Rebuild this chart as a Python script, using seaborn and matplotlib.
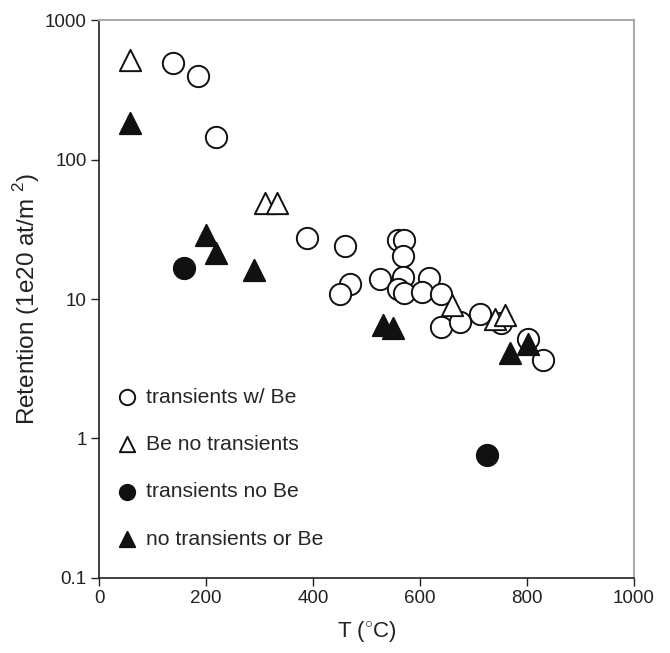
import pandas as pd
import seaborn as sns
import matplotlib.pyplot as plt

# transients w/ Be (open circles)
tw_T = [138, 185, 219, 389, 460, 559, 570, 569, 469, 450, 526, 569, 559, 570,
        617, 603, 640, 712, 752, 640, 675, 802, 830]
tw_R = [490, 399, 145, 27.2, 24.1, 26.5, 26.5, 20.3, 12.9, 10.9, 14.0, 14.4, 11.9, 11.0,
        14.1, 11.3, 10.9, 7.8, 6.7, 6.3, 6.9, 5.2, 3.66]

# Be no transients (open triangles)
bn_T = [58, 310, 333, 660, 740, 759]
bn_R = [516, 49, 49, 9.0, 7.2, 7.7]

# transients no Be (filled circles)
tn_T = [158, 726]
tn_R = [16.6, 0.76]

# no transients or Be (filled triangles)
nn_T = [58, 199, 219, 290, 531, 550, 768, 802]
nn_R = [184, 28.8, 21.3, 16.1, 6.5, 6.2, 4.08, 4.8]

groups = [
    ("transients w/ Be", tw_T, tw_R, "o", "white"),
    ("Be no transients", bn_T, bn_R, "^", "white"),
    ("transients no Be", tn_T, tn_R, "o", "#111111"),
    ("no transients or Be", nn_T, nn_R, "^", "#111111"),
]

sns.set_style("ticks")
plt.rcParams['font.family'] = ['Liberation Sans', 'DejaVu Sans']
plt.rcParams['mathtext.fontset'] = 'custom'
plt.rcParams['mathtext.rm'] = 'Liberation Sans'

fig = plt.figure(figsize=(6.7, 6.53), dpi=100)
ax = fig.add_axes([0.148, 0.115, 0.798, 0.854])

for name, T, R, m, fc in groups:
    df = pd.DataFrame({"T": T, "R": R})
    sns.scatterplot(data=df, x="T", y="R", marker=m, s=235, facecolor=fc,
                    edgecolor="#111111", linewidth=1.4, ax=ax, label=name, zorder=3)

ax.set_yscale("log")
ax.set_xlim(0, 1000)
ax.set_ylim(0.1, 1000)
ax.set_xticks([0, 200, 400, 600, 800, 1000])
ax.set_yticks([0.1, 1, 10, 100, 1000])
ax.set_yticklabels(["0.1", "1", "10", "100", "1000"])
ax.minorticks_off()
ax.tick_params(labelsize=13.5, length=6, width=1, pad=3, direction="out", colors="#222222")

for side in ["left", "bottom"]:
    ax.spines[side].set_color("#222222")
    ax.spines[side].set_linewidth(1.2)
for side in ["top", "right"]:
    ax.spines[side].set_color("#aaaaaa")
    ax.spines[side].set_linewidth(1.5)

ax.set_xlabel(r"T ($^{\circ}$C)", fontsize=16, color="#222222", labelpad=8)
ax.set_ylabel(r"Retention (1e20 at/m $^{2}$)", fontsize=17.5, color="#222222", labelpad=2)

leg = ax.legend(loc="upper left", bbox_to_anchor=(0.0, 0.36), frameon=False,
                fontsize=15.2, labelspacing=1.34, handletextpad=0.1, handlelength=1.6,
                markerscale=0.72, borderaxespad=0, borderpad=0.5)

plt.savefig("out.png", dpi=100)
